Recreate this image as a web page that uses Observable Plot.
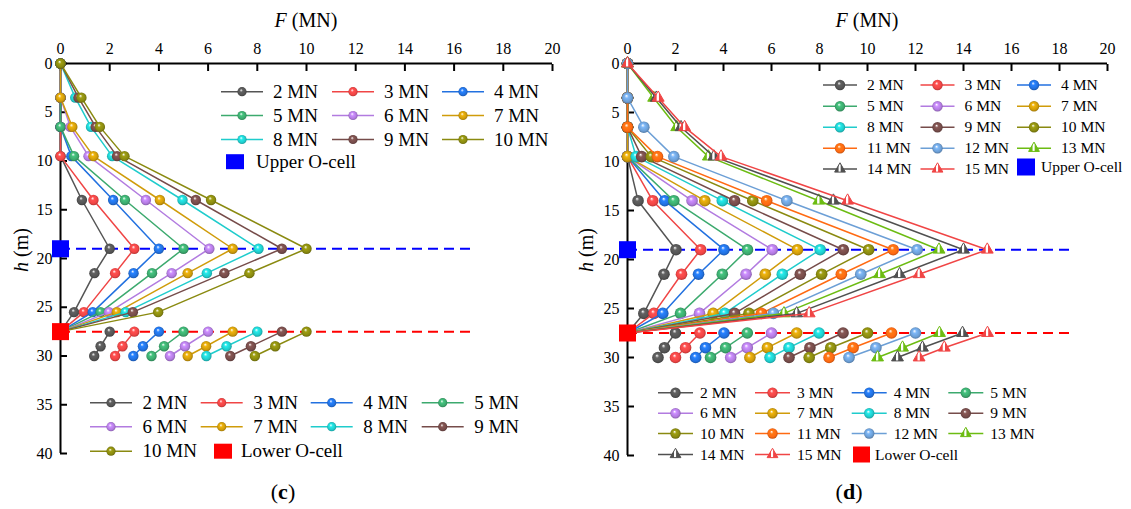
<!DOCTYPE html>
<html><head><meta charset="utf-8">
<script src="https://cdn.jsdelivr.net/npm/d3@7"></script>
<script src="https://cdn.jsdelivr.net/npm/@observablehq/plot@0.6"></script>
<style>
body{margin:0;background:#fff;}
#root{position:relative;width:1131px;height:509px;overflow:hidden;font-family:"Liberation Serif","Times New Roman",serif;color:#000;background:#fff;}
.panel{position:absolute;top:0;}
#overlay{position:absolute;left:0;top:0;pointer-events:none;}
</style></head><body><div id="root"></div>
<script>
// ---------------- DATA ----------------
const xTicks = [0, 2, 4, 6, 8, 10, 12, 14, 16, 18, 20];
const yTicks = [0, 5, 10, 15, 20, 25, 30, 35, 40];
const upperCellDepth = 19;
const lowerCellDepth = 27.5;
// depths of gauges: upper pile section (to lower O-cell) and lower section
const depthUpper = [0, 3.5, 6.5, 9.5, 14, 19, 21.5, 25.5, 27.5];
const depthLower = [27.5, 29, 30];

// (c) loads 2..10 MN
const loadsC = [2, 3, 4, 5, 6, 7, 8, 9, 10];
const upperC = [
  [0, 0, 0, 0, 0.87, 2.0, 1.38, 0.55, 0],
  [0, 0, 0, 0, 1.34, 3.0, 2.22, 0.95, 0],
  [0, 0, 0, 0.44, 2.14, 4.0, 2.97, 1.31, 0],
  [0, 0, 0, 0.55, 2.62, 5.0, 3.72, 1.63, 0],
  [0, 0, 0.4, 1.14, 3.47, 6.05, 4.52, 1.97, 0],
  [0, 0, 0.48, 1.34, 4.04, 7.0, 5.17, 2.29, 0],
  [0, 0.6, 1.24, 2.1, 4.96, 8.05, 5.95, 2.65, 0],
  [0, 0.73, 1.43, 2.3, 5.5, 9.0, 6.66, 2.94, 0],
  [0, 0.85, 1.6, 2.6, 6.12, 10.0, 7.68, 3.97, 0]
];
const lowerC = [
  [2.0, 1.63, 1.37],
  [3.0, 2.52, 2.22],
  [4.0, 3.35, 2.96],
  [5.0, 4.21, 3.7],
  [6.0, 5.06, 4.45],
  [7.0, 5.92, 5.17],
  [8.0, 6.75, 5.93],
  [9.0, 7.74, 6.9],
  [10.0, 8.73, 7.9]
];
const dashEndC = 16.7;

// (d) loads 2..15 MN
const loadsD = [2, 3, 4, 5, 6, 7, 8, 9, 10, 11, 12, 13, 14, 15];
const upperD = [
  [0, 0, 0, 0, 0.44, 2.02, 1.52, 0.68, 0],
  [0, 0, 0, 0, 1.05, 3.05, 2.25, 1.1, 0],
  [0, 0, 0, 0, 1.55, 4.02, 2.96, 1.47, 0],
  [0, 0, 0, 0, 1.93, 5.0, 3.95, 2.21, 0],
  [0, 0, 0, 0, 2.69, 6.03, 4.94, 3.0, 0],
  [0, 0, 0, 0, 3.22, 7.08, 5.74, 3.57, 0],
  [0, 0, 0, 0.36, 3.95, 8.03, 6.45, 4.05, 0],
  [0, 0, 0, 0.59, 4.46, 8.99, 7.2, 4.46, 0],
  [0, 0, 0, 0.99, 5.22, 10.05, 8.09, 5.06, 0],
  [0, 0, 0, 1.25, 5.8, 11.07, 8.91, 5.58, 0],
  [0, 0, 0.68, 1.93, 6.64, 12.07, 9.72, 6.08, 0],
  [0, 1.09, 2.05, 3.37, 7.97, 12.98, 10.5, 6.52, 0],
  [0, 1.2, 2.23, 3.6, 8.58, 14.0, 11.34, 7.05, 0],
  [0, 1.28, 2.38, 3.9, 9.17, 14.99, 12.15, 7.57, 0]
];
const lowerD = [
  [2.0, 1.54, 1.27],
  [3.02, 2.42, 2.0],
  [4.02, 3.25, 2.84],
  [4.99, 4.09, 3.46],
  [6.0, 4.99, 4.3],
  [7.05, 5.83, 5.1],
  [7.98, 6.73, 5.94],
  [8.98, 7.6, 6.73],
  [10.0, 8.47, 7.57],
  [11.0, 9.4, 8.4],
  [12.0, 10.35, 9.23],
  [13.0, 11.46, 10.42],
  [13.96, 12.29, 11.25],
  [15.0, 13.2, 12.15]
];
const dashEndD = 18.5;

// series colours (by load, 2..15) and marker symbols
const seriesColors = ["#555555", "#f04545", "#2271e0", "#3caa6e", "#b27be0", "#d09c0a", "#1fcccc", "#764c4a", "#8a8a10", "#ff6a12", "#6c9fd6", "#6cbc12", "#505050", "#f04545"];
const triangleLoads = [13, 14, 15];
const colorOf = L => seriesColors[L - 2];
const symOf = L => triangleLoads.includes(L) ? "triangle" : "circle";

// ---------------- GRADIENTS ----------------
const root = d3.select("#root");
const defs = root.append("svg").attr("width", 0).attr("height", 0)
  .style("position", "absolute").append("defs");
loadsD.forEach(L => {
  const c = colorOf(L);
  const g = defs.append("radialGradient").attr("id", "sph" + L)
    .attr("cx", "50%").attr("cy", "50%").attr("r", "55%").attr("fx", "40%").attr("fy", "32%");
  g.append("stop").attr("offset", "0%").attr("stop-color", "#ffffff");
  g.append("stop").attr("offset", "30%").attr("stop-color", d3.color(c).brighter(0.4).formatHex());
  g.append("stop").attr("offset", "70%").attr("stop-color", c);
  g.append("stop").attr("offset", "100%").attr("stop-color", d3.color(c).darker(1).formatHex());
  const t = defs.append("linearGradient").attr("id", "tri" + L)
    .attr("x1", "0").attr("x2", "1").attr("y1", "0").attr("y2", "0");
  [[0, c], [0.33, c], [0.4, "#ffffff"], [0.52, "#ffffff"], [0.6, c], [1, c]].forEach(([o, col]) =>
    t.append("stop").attr("offset", o).attr("stop-color", col));
});

// ---------------- PANELS ----------------
function panel({loads, upper, lower, dashEnd, width, height, ml, mr, r, rt}) {
  const marks = [
    Plot.ruleY([upperCellDepth], {x1: 0, x2: dashEnd, stroke: "#0000ff", strokeWidth: 2, strokeDasharray: "10,6"}),
    Plot.ruleY([lowerCellDepth], {x1: 0, x2: dashEnd, stroke: "#ff0000", strokeWidth: 2, strokeDasharray: "10,6"}),
    Plot.ruleY([0], {stroke: "#000", strokeWidth: 2}),
    Plot.ruleX([0], {stroke: "#000", strokeWidth: 2}),
    Plot.axisX({anchor: "top", ticks: xTicks, tickSize: -7, tickPadding: 17, fontSize: 16, label: null, strokeWidth: 2}),
    Plot.axisY({anchor: "left", ticks: yTicks, tickSize: -7, tickPadding: 15, fontSize: 16, label: null, strokeWidth: 2})
  ];
  loads.forEach((L, i) => {
    const up = depthUpper.map((h, j) => ({h, F: upper[i][j]}));
    const lo = depthLower.map((h, j) => ({h, F: lower[i][j]}));
    const col = colorOf(L);
    const tri = symOf(L) === "triangle";
    marks.push(Plot.line(up, {x: "F", y: "h", stroke: col, strokeWidth: 1.5}));
    marks.push(Plot.line(lo, {x: "F", y: "h", stroke: col, strokeWidth: 1.5}));
    marks.push(Plot.dot(up.concat(lo), {
      x: "F", y: "h", symbol: tri ? "triangle" : "circle", r: tri ? rt : r,
      fill: tri ? `url(#tri${L})` : `url(#sph${L})`,
      stroke: tri ? col : "none", strokeWidth: 1
    }));
  });
  marks.push(Plot.dot([{h: upperCellDepth, F: 0}], {x: "F", y: "h", symbol: "square", r: 9.6, fill: "#0000ff"}));
  marks.push(Plot.dot([{h: lowerCellDepth, F: 0}], {x: "F", y: "h", symbol: "square", r: 9.6, fill: "#ff0000"}));
  return Plot.plot({
    width, height, marginTop: 63, marginLeft: ml, marginRight: mr, marginBottom: 17,
    x: {domain: [0, 20], axis: null},
    y: {domain: [0, 40], reverse: true, axis: null},
    style: {fontFamily: "'Liberation Serif','Times New Roman',serif", fontSize: "16px", color: "#000", background: "transparent", overflow: "visible"},
    marks
  });
}

const pc = panel({loads: loadsC, upper: upperC, lower: lowerC, dashEnd: dashEndC, width: 565, height: 470, ml: 60, mr: 13, r: 5.2, rt: 4.4});
const pd = panel({loads: loadsD, upper: upperD, lower: lowerD, dashEnd: dashEndD, width: 566, height: 472, ml: 62, mr: 24, r: 5.8, rt: 4.4});
root.append("div").attr("class", "panel").style("left", "0px").node().appendChild(pc);
root.append("div").attr("class", "panel").style("left", "565px").node().appendChild(pd);

// ---------------- OVERLAY (titles, legends, captions) ----------------
const ov = root.append("svg").attr("id", "overlay").attr("width", 1131).attr("height", 509)
  .style("font-family", "'Liberation Serif','Times New Roman',serif");

function axisTitles(cx, hx, hy) {
  const t = ov.append("text").attr("x", cx).attr("y", 27).attr("text-anchor", "middle").attr("font-size", 20);
  t.append("tspan").attr("font-style", "italic").text("F");
  t.append("tspan").text(" (MN)");
  const h = ov.append("text").attr("transform", `translate(${hx},${hy}) rotate(-90)`)
    .attr("text-anchor", "middle").attr("font-size", 20);
  h.append("tspan").attr("font-style", "italic").text("h");
  h.append("tspan").text(" (m)");
}
axisTitles(306, 28, 250);
axisTitles(867, 593, 250);

function caption(cx, letter) {
  const t = ov.append("text").attr("x", cx).attr("y", 499).attr("text-anchor", "middle").attr("font-size", 22);
  t.append("tspan").text("(");
  t.append("tspan").attr("font-weight", "bold").text(letter);
  t.append("tspan").text(")");
}
caption(283, "c");
caption(849, "d");

function legendItem(x0, yc, len, tOff, L, fs, r) {
  const col = colorOf(L);
  ov.append("line").attr("x1", x0).attr("x2", x0 + len).attr("y1", yc).attr("y2", yc)
    .attr("stroke", col).attr("stroke-width", 1.5);
  const cx = x0 + len / 2;
  if (symOf(L) === "triangle") {
    const sym = d3.symbol(d3.symbolTriangle, Math.PI * 4 * 4)();
    ov.append("path").attr("d", sym).attr("transform", `translate(${cx},${yc})`)
      .attr("fill", `url(#tri${L})`).attr("stroke", col).attr("stroke-width", 1);
  } else {
    ov.append("circle").attr("cx", cx).attr("cy", yc).attr("r", r).attr("fill", `url(#sph${L})`);
  }
  ov.append("text").attr("x", x0 + tOff).attr("y", yc + 0.33 * fs).attr("font-size", fs).text(`${L} MN`);
}
function legendSquare(x, yc, w, h, color, label, tx, fs) {
  ov.append("rect").attr("x", x).attr("y", yc - h / 2).attr("width", w).attr("height", h).attr("fill", color);
  ov.append("text").attr("x", tx).attr("y", yc + 0.33 * fs).attr("font-size", fs).text(label);
}

// (c) upper legend: 3 columns
{
  const cols = [221, 332, 442], rows = [91.7, 115.5, 139.5];
  loadsC.forEach((L, i) => legendItem(cols[i % 3], rows[Math.floor(i / 3)], 42, 52, L, 19, 4.6));
  legendSquare(226, 161.7, 18, 15, "#0000ff", "Upper O-cell", 256, 19);
}
// (c) lower legend: 4 columns
{
  const cols = [90, 200.7, 310.7, 421.7], rows = [402.7, 426.7, 451.2];
  loadsC.forEach((L, i) => legendItem(cols[i % 4], rows[Math.floor(i / 4)], 42, 52.5, L, 19, 4.6));
  legendSquare(214, 451.2, 18, 15, "#ff0000", "Lower O-cell", 241, 19);
}
// (d) upper legend: 3 columns
{
  const cols = [823, 920.5, 1017], rows = [85, 106.3, 127.3, 148.3, 169];
  loadsD.forEach((L, i) => legendItem(cols[i % 3], rows[Math.floor(i / 3)], 34, 44, L, 15.5, 5.2));
  legendSquare(1017, 167, 18, 17, "#0000ff", "Upper O-cell", 1041, 15.5);
}
// (d) lower legend: 4 columns
{
  const cols = [658, 755, 851.7, 948.3], rows = [392.7, 413.3, 433.5, 454.5];
  loadsD.forEach((L, i) => legendItem(cols[i % 4], rows[Math.floor(i / 4)], 35, 42, L, 15.5, 5.2));
  legendSquare(853, 454.5, 17, 16, "#ff0000", "Lower O-cell", 875, 15.5);
}
</script></body></html>
